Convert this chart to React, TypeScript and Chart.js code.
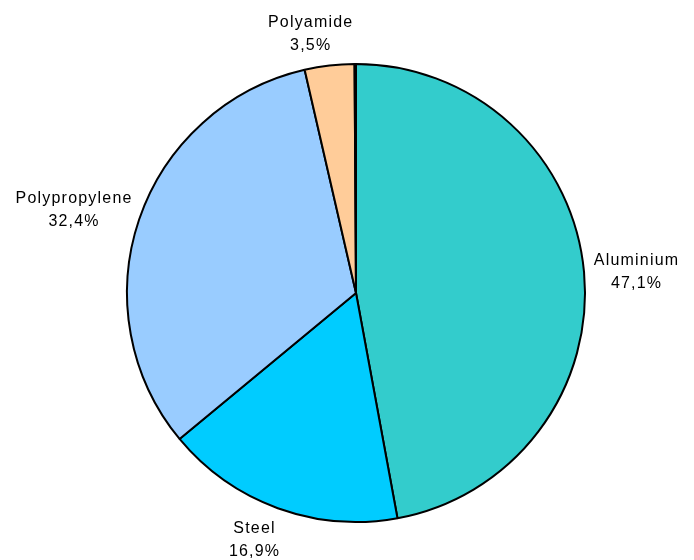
import React, { useEffect, useRef } from "react";
import { Chart, registerables } from "chart.js";

Chart.register(...registerables);

const categories = ["Aluminium", "Steel", "Polypropylene", "Polyamide", ""];
const values = [47.1, 16.9, 32.4, 3.5, 0.1];
const colors = ["#33CCCC", "#00CCFF", "#99CCFF", "#FFCC99", "#000000"];
const labelNudgeX = [3, -12, -3, -13, 0];
const labelNudgeY = [3, 4, 0, -2, 0];

const FONT = '16px "Liberation Sans", Arial, sans-serif';
const LINE_H = 23;

const labelPlugin = {
  id: "outsideLabels",
  afterDraw(chart: any) {
    const ctx = chart.ctx;
    const meta = chart.getDatasetMeta(0);
    ctx.save();
    ctx.font = FONT;
    try { (ctx as any).letterSpacing = "1.2px"; } catch (e) {}
    ctx.fillStyle = "#000";
    ctx.textAlign = "center";
    ctx.textBaseline = "middle";
    meta.data.forEach((arc: any, i: number) => {
      const name = categories[i];
      if (!name) return;
      const pct = values[i].toFixed(1).replace(".", ",") + "%";
      const w = Math.max(ctx.measureText(name).width, ctx.measureText(pct).width);
      const h = LINE_H * 2;
      const mid = (arc.startAngle + arc.endAngle) / 2;
      const dx = Math.cos(mid);
      const dy = Math.sin(mid);
      const rr = arc.outerRadius + 7;
      const cx = arc.x + rr * dx + (dx * w) / 2 + labelNudgeX[i];
      const cy = arc.y + rr * dy + (dy * h) / 2 + labelNudgeY[i];
      ctx.fillText(name, cx, cy - LINE_H / 2);
      ctx.fillText(pct, cx, cy + LINE_H / 2);
    });
    ctx.restore();
  },
};

export default function App() {
  const ref = useRef<HTMLCanvasElement>(null);
  useEffect(() => {
    document.body.style.margin = "0";
    const chart = new Chart(ref.current!, {
      type: "pie",
      data: {
        labels: categories,
        datasets: [
          {
            data: values,
            backgroundColor: colors,
            borderColor: "#000000",
            borderWidth: 2,
          },
        ],
      },
      options: {
        animation: false,
        responsive: false,
        maintainAspectRatio: false,
        radius: 229,
        layout: { padding: { left: 68, right: 50, top: 60, bottom: 34 } },
        plugins: {
          legend: { display: false },
          tooltip: { enabled: false },
        },
      } as any,
      plugins: [labelPlugin],
    });
    return () => chart.destroy();
  }, []);
  return (
    <div style={{ width: 694, height: 560, background: "#fff" }}>
      <canvas ref={ref} width={694} height={560} style={{ display: "block" }} />
    </div>
  );
}
